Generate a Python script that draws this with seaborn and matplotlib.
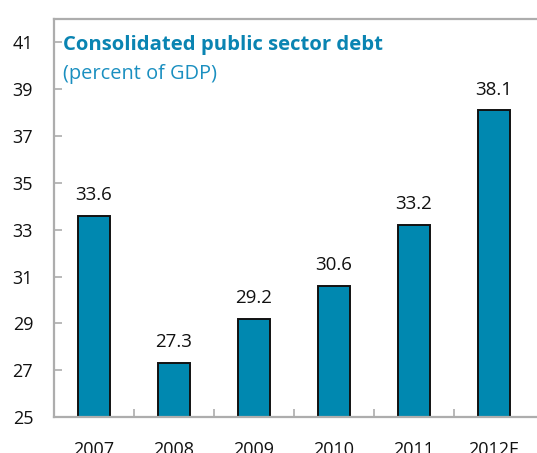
import matplotlib
matplotlib.use("Agg")
import matplotlib.pyplot as plt
import seaborn as sns
import pandas as pd
from matplotlib.ticker import FixedLocator

years = ["2007", "2008", "2009", "2010", "2011", "2012E"]
debt = [33.6, 27.3, 29.2, 30.6, 33.2, 38.1]
y_ticks = [25, 27, 29, 31, 33, 35, 37, 39, 41]

sns.set_theme(style="white")
plt.rcParams["font.family"] = ["Open Sans", "DejaVu Sans"]

bar_color = "#0088B0"
title_color = "#0A84B2"
spine_color = "#ADADAD"

df = pd.DataFrame({"year": years, "debt": debt})

fig = plt.figure(figsize=(5.37, 4.53), dpi=100)
ax = fig.add_axes([54 / 537, 36 / 453, 486 / 537, 398 / 453])

sns.barplot(data=df, x="year", y="debt", color=bar_color, width=0.41,
            edgecolor="#111111", linewidth=1.4, saturation=1, ax=ax)

ax.set_ylim(25, 42)
ax.set_xlim(-0.5, 5.575)
ax.set_yticks(y_ticks)
ax.set_yticklabels([str(t) for t in y_ticks])
ax.set_xlabel("")
ax.set_ylabel("")

for sp in ["left", "top", "bottom"]:
    ax.spines[sp].set_color(spine_color)
    ax.spines[sp].set_linewidth(1.6)
ax.spines["right"].set_visible(False)

ax.tick_params(axis="y", direction="in", length=6, width=1.2, color=spine_color,
               labelsize=13, labelcolor="#111111", pad=15, left=True)
ax.tick_params(axis="x", which="major", length=0, labelsize=13,
               labelcolor="#111111", pad=17)
ax.xaxis.set_minor_locator(FixedLocator([0.5, 1.5, 2.5, 3.5, 4.5]))
ax.tick_params(axis="x", which="minor", direction="in", length=6, width=1.2,
               color=spine_color, bottom=True)

for i, v in enumerate(debt):
    ax.text(i, v + 0.5, f"{v:.1f}", ha="center", va="bottom",
            fontsize=13.5, color="#111111")

fig.text(63 / 537, 1 - 45 / 453, "Consolidated public sector debt",
         ha="left", va="center", fontsize=14.6, fontweight="bold", color=title_color)
fig.text(63 / 537, 1 - 74 / 453, "(percent of GDP)",
         ha="left", va="center", fontsize=14.4, color="#1A8FC0")

fig.savefig("out.png", dpi=100)
